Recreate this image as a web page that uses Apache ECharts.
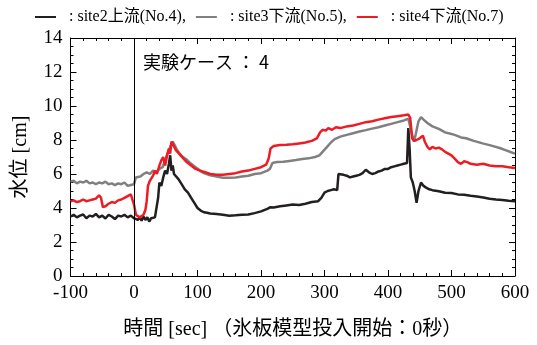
<!DOCTYPE html>
<html>
<head>
<meta charset="utf-8">
<script src="https://cdn.jsdelivr.net/npm/echarts@6/dist/echarts.min.js"></script>
<style>html,body{margin:0;padding:0;background:#fff;}#c{width:537px;height:345px;}</style>
</head>
<body>
<div id="c"></div>
<script>
// ---- data (time [sec], water level [cm]) ----
const seriesNames = ['site2上流(No.4)', 'site3下流(No.5)', 'site4下流(No.7)'];
const xTicks = [-100, 0, 100, 200, 300, 400, 500, 600];
const yTicks = [0, 2, 4, 6, 8, 10, 12, 14];
const annotation = '実験ケース ： 4';
const xTitle = '時間 [sec] （氷板模型投入開始：0秒）';
const yTitle = '水位 [cm]';

const site2 = [
[-100,3.5],[-95,3.6],[-90,3.45],[-85,3.55],[-80,3.62],[-75,3.4],[-70,3.55],[-65,3.5],[-60,3.65],[-55,3.45],
[-50,3.55],[-45,3.38],[-40,3.6],[-35,3.5],[-30,3.35],[-25,3.55],[-20,3.5],[-15,3.6],[-10,3.45],[-5,3.55],
[0,3.4],[3,3.5],[6,3.3],[9,3.45],[12,3.25],[15,3.5],[18,3.3],[21,3.45],[24,3.2],[27,3.4],[30,3.3],[33,3.45],[36,3.35],
[38,4.6],[40,5.5],[43,5.3],[46,5.8],[49,6.2],[52,6.0],[55,6.6],[57,7.1],[59,6.2],[61,6.5],[63,6.0],[66,6.1],
[70,5.7],[75,5.4],[80,5.1],[85,4.9],[90,4.6],[95,4.3],[100,4.0],[105,3.85],[110,3.75],[115,3.72],[120,3.68],
[130,3.65],[140,3.6],[150,3.55],[160,3.57],[170,3.6],[180,3.62],[190,3.7],[200,3.8],[210,3.95],[215,4.05],
[220,4.03],[230,4.1],[240,4.15],[250,4.2],[260,4.18],[270,4.25],[280,4.35],[290,4.4],[295,4.6],[300,4.9],
[305,5.0],[310,5.05],[315,5.1],[320,5.05],[322,6.0],[325,6.05],[330,5.95],[335,5.9],[340,5.8],[345,5.85],
[350,5.9],[355,5.95],[360,6.05],[365,6.25],[370,6.1],[375,6.0],[380,6.05],[385,6.15],[390,6.2],[395,6.3],
[400,6.3],[405,6.4],[410,6.45],[415,6.5],[420,6.55],[425,6.6],[430,6.65],[432,8.7],[434,7.5],[436,5.8],
[439,5.5],[442,5.0],[445,4.3],[448,5.0],[452,5.5],[456,5.3],[460,5.2],[465,5.1],[470,5.05],[480,4.98],
[490,4.9],[500,4.88],[510,4.8],[520,4.78],[530,4.72],[540,4.68],[550,4.62],[560,4.55],[570,4.5],[580,4.47],
[590,4.42],[600,4.4]
];
const site3 = [
[-100,5.55],[-95,5.6],[-90,5.45],[-85,5.55],[-80,5.5],[-75,5.6],[-70,5.45],[-65,5.5],[-60,5.4],[-55,5.5],
[-50,5.45],[-45,5.55],[-40,5.4],[-35,5.45],[-30,5.35],[-25,5.45],[-20,5.4],[-15,5.5],[-10,5.3],[-5,5.35],
[0,5.4],[3,5.8],[6,5.9],[10,5.85],[15,6.0],[20,6.1],[25,6.0],[30,6.2],[35,6.1],[40,6.3],[45,6.4],[50,6.9],
[55,7.4],[58,7.7],[61,7.9],[64,7.7],[68,7.4],[72,7.2],[77,7.0],[83,6.85],[90,6.6],[97,6.4],[104,6.2],
[110,6.05],[120,5.92],[130,5.85],[140,5.78],[150,5.78],[160,5.8],[170,5.85],[180,5.9],[190,6.0],[200,6.05],
[210,6.2],[214,6.3],[218,6.65],[225,6.7],[235,6.72],[245,6.77],[255,6.82],[265,6.88],[275,6.92],[285,7.0],
[292,7.1],[298,7.35],[303,7.55],[310,7.85],[316,8.05],[325,8.2],[335,8.3],[345,8.4],[355,8.5],[365,8.58],
[375,8.67],[385,8.75],[395,8.85],[405,8.95],[415,9.05],[425,9.15],[432,9.25],[435,9.2],[438,8.3],[441,7.9],
[444,8.4],[448,9.1],[452,9.35],[456,9.2],[462,9.0],[470,8.8],[480,8.65],[490,8.45],[497,8.38],[505,8.3],
[515,8.15],[523,8.1],[535,7.95],[549,7.8],[560,7.7],[576,7.53],[585,7.4],[596,7.25],[600,7.2]
];
const site4 = [
[-100,4.4],[-95,4.45],[-90,4.35],[-85,4.4],[-80,4.5],[-75,4.4],[-70,4.45],[-65,4.5],[-60,4.55],[-55,4.75],
[-52,4.6],[-49,4.05],[-45,4.1],[-40,4.25],[-35,4.35],[-30,4.3],[-25,4.45],[-20,4.5],[-15,4.6],[-10,4.7],
[-5,4.8],[-2,4.7],[0,4.2],[3,3.6],[6,3.55],[9,3.45],[12,3.4],[15,3.6],[18,3.9],[20,4.4],[22,5.3],[25,5.6],
[30,5.9],[33,6.2],[36,6.0],[40,6.5],[43,6.8],[46,7.0],[49,6.5],[52,7.1],[55,7.5],[57,7.2],[59,7.9],[62,7.7],
[66,7.4],[72,7.15],[78,6.9],[83,6.7],[90,6.5],[97,6.3],[104,6.2],[112,6.1],[120,6.0],[130,5.95],[140,5.95],
[150,6.0],[160,6.05],[170,6.15],[180,6.2],[190,6.3],[200,6.4],[208,6.55],[212,6.9],[215,7.5],[220,7.65],
[230,7.7],[240,7.72],[250,7.75],[260,7.8],[270,7.85],[280,7.95],[288,8.1],[293,8.45],[297,8.6],[302,8.55],
[306,8.7],[312,8.6],[318,8.75],[325,8.7],[335,8.8],[345,8.85],[355,8.95],[365,9.05],[375,9.1],[385,9.2],
[395,9.28],[405,9.35],[415,9.4],[425,9.45],[432,9.5],[435,9.3],[438,8.1],[441,7.95],[445,8.0],[450,8.1],
[455,8.25],[458,7.9],[462,7.6],[466,7.45],[470,7.6],[475,7.5],[480,7.55],[485,7.45],[490,7.3],[495,7.2],
[500,7.1],[505,6.9],[510,6.7],[515,6.6],[520,6.75],[525,6.7],[530,6.6],[540,6.55],[550,6.6],[560,6.5],
[570,6.45],[580,6.45],[590,6.4],[600,6.35]
];
const colors = ['#231f20', '#808080', '#ed1c24'];

// ---- chart ----
const serif = '"Liberation Serif", "Noto Sans CJK JP", serif';
const chart = echarts.init(document.getElementById('c'), null, {renderer: 'canvas'});
const xMin = xTicks[0], xMax = xTicks[xTicks.length - 1];
const yMin = yTicks[0], yMax = yTicks[yTicks.length - 1];
const axisCommon = {
  axisLine: {show: true, onZero: false, lineStyle: {color: '#000', width: 1}},
  axisTick: {show: true, inside: true, length: 6, lineStyle: {color: '#000'}},
  minorTick: {show: true, length: 3, lineStyle: {color: '#000'}},
  splitLine: {show: false}
};
const xAx = (pos, label) => Object.assign({}, axisCommon, {
  type: 'value', position: pos, min: xMin, max: xMax, interval: 100,
  minorTick: Object.assign({}, axisCommon.minorTick, {splitNumber: 5}),
  axisLabel: {show: label, color: '#000', fontFamily: serif, fontSize: 19, margin: 8},
  name: label ? xTitle : '', nameLocation: 'middle', nameGap: 44,
  nameTextStyle: {color: '#000', fontFamily: serif, fontSize: 20}
});
const yAx = (pos, label) => Object.assign({}, axisCommon, {
  type: 'value', position: pos, min: yMin, max: yMax, interval: 2,
  minorTick: Object.assign({}, axisCommon.minorTick, {splitNumber: 4}),
  axisLabel: {show: label, color: '#000', fontFamily: serif, fontSize: 19, margin: 8},
  name: label ? yTitle : '', nameLocation: 'middle', nameGap: 40,
  nameTextStyle: {color: '#000', fontFamily: serif, fontSize: 20}
});
const datasets = [site2, site3, site4];
chart.setOption({
  animation: false,
  backgroundColor: '#fff',
  grid: {left: 70.5, right: 22, top: 38, bottom: 61},
  legend: {
    top: 4, left: 30, itemWidth: 21, itemHeight: 2, itemGap: 10, icon: 'rect',
    data: seriesNames,
    formatter: n => '  : ' + n + (n === seriesNames[2] ? '' : ','),
    textStyle: {color: '#000', fontFamily: serif, fontSize: 16}
  },
  xAxis: [xAx('bottom', true), xAx('top', false)],
  yAxis: [yAx('left', true), yAx('right', false)],
  graphic: [{
    type: 'text', left: 143, top: 53,
    style: {text: annotation, fill: '#000', font: '18px "Noto Sans CJK JP", sans-serif'}
  }],
  series: datasets.map((d, i) => ({
    name: seriesNames[i], type: 'line', data: d, showSymbol: false, symbol: 'none',
    color: colors[i], lineStyle: {color: colors[i], width: 2.5}, z: 2 + i,
    markLine: i === 0 ? {
      silent: true, symbol: 'none', label: {show: false},
      lineStyle: {color: '#000', width: 1, type: 'solid'},
      data: [{xAxis: 0}]
    } : undefined
  }))
});
</script>
</body>
</html>
